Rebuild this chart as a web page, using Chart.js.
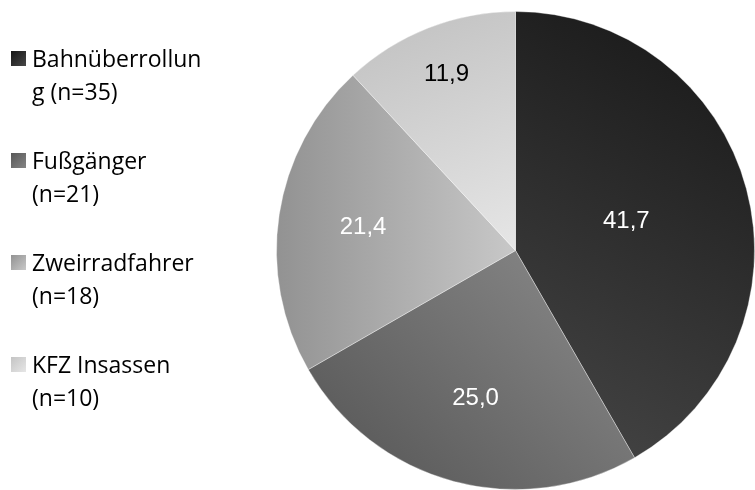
<!DOCTYPE html>
<html>
<head>
<meta charset="utf-8">
<script src="https://cdn.jsdelivr.net/npm/chart.js@4.4.1/dist/chart.umd.min.js"></script>
<style>
  html, body { margin: 0; padding: 0; background: #ffffff; }
  #wrap { position: relative; width: 755px; height: 490px; }
</style>
</head>
<body>
<div id="wrap"><canvas id="c" width="755" height="490"></canvas></div>
<script>
// ---- data ----
const categories = ["Bahnüberrollung", "Fußgänger", "Zweirradfahrer", "KFZ Insassen"];
const counts = [35, 21, 18, 10];
const percentValues = [41.7, 25.0, 21.4, 11.9];
const valueLabels = ["41,7", "25,0", "21,4", "11,9"];
const legendLines = [
  ["Bahnüberrollun", "g (n=35)"],
  ["Fußgänger", "(n=21)"],
  ["Zweirradfahrer", "(n=18)"],
  ["KFZ Insassen", "(n=10)"]
];

// ---- styles ----
// gradient: [x0,y0,x1,y1] as fraction of pie bounding box, colour start, colour end
const sliceGradients = [
  [1.0, 0.0, 0.5, 0.95, "#161616", "#474747"],
  [0.15, 1.0, 0.6, 0.5, "#575757", "#858585"],
  [0.0, 0.5, 0.5, 0.5, "#929292", "#c8c8c8"],
  [0.3, 0.02, 0.5, 0.5, "#c4c4c4", "#e6e6e6"]
];
const labelColors = ["#ffffff", "#ffffff", "#ffffff", "#000000"];
const labelRadiusFrac = [0.48, 0.64, 0.645, 0.79];

function sliceFill(ctx) {
  const chart = ctx.chart;
  const a = chart.chartArea;
  if (!a) return "#888";
  const g = sliceGradients[ctx.dataIndex];
  const w = a.right - a.left, h = a.bottom - a.top;
  const grad = chart.ctx.createLinearGradient(a.left + g[0] * w, a.top + g[1] * h, a.left + g[2] * w, a.top + g[3] * h);
  grad.addColorStop(0, g[4]);
  grad.addColorStop(1, g[5]);
  return grad;
}

const labelPlugin = {
  id: "sliceLabels",
  afterDatasetsDraw(chart) {
    const ctx = chart.ctx;
    const meta = chart.getDatasetMeta(0);
    ctx.save();
    ctx.font = "24px 'Liberation Sans', Arial, sans-serif";
    ctx.textAlign = "center";
    ctx.textBaseline = "middle";
    meta.data.forEach((arc, i) => {
      const p = arc.getProps(["x", "y", "startAngle", "endAngle", "outerRadius"], true);
      const mid = (p.startAngle + p.endAngle) / 2;
      const r = p.outerRadius * labelRadiusFrac[i];
      ctx.fillStyle = labelColors[i];
      ctx.fillText(valueLabels[i], p.x + Math.cos(mid) * r, p.y + Math.sin(mid) * r);
    });
    ctx.restore();
  }
};

const legendPlugin = {
  id: "sideLegend",
  afterDraw(chart) {
    const ctx = chart.ctx;
    ctx.save();
    ctx.font = "23px 'Open Sans', Lato, sans-serif";
    ctx.textAlign = "left";
    ctx.textBaseline = "alphabetic";
    const baseY = 67, itemStep = 102, lineStep = 33;
    legendLines.forEach((lines, i) => {
      const y = baseY + i * itemStep;
      const g = sliceGradients[i];
      const grad = ctx.createLinearGradient(11, y - 16, 26, y - 1);
      grad.addColorStop(0, g[4]);
      grad.addColorStop(1, g[5]);
      ctx.fillStyle = grad;
      ctx.fillRect(11, y - 16, 15, 15);
      ctx.fillStyle = "#000000";
      lines.forEach((t, j) => ctx.fillText(t, 32, y + j * lineStep));
    });
    ctx.restore();
  }
};

new Chart(document.getElementById("c"), {
  type: "pie",
  data: {
    labels: categories,
    datasets: [{
      data: percentValues,
      backgroundColor: sliceFill,
      borderColor: "rgba(255,255,255,0.35)",
      borderWidth: 1
    }]
  },
  options: {
    responsive: false,
    maintainAspectRatio: false,
    devicePixelRatio: 1,
    animation: false,
    layout: { padding: { left: 276, top: 11, right: 0, bottom: 0 } },
    plugins: {
      legend: { display: false },
      tooltip: { enabled: false }
    }
  },
  plugins: [labelPlugin, legendPlugin]
});
</script>
</body>
</html>
